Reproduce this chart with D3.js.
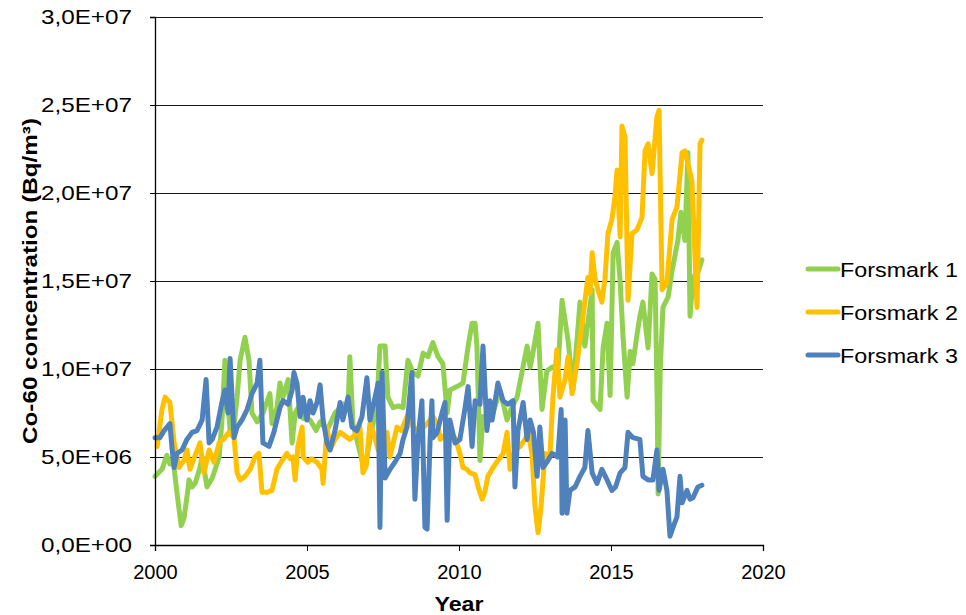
<!DOCTYPE html>
<html>
<head>
<meta charset="utf-8">
<script src="https://cdn.jsdelivr.net/npm/d3@7"></script>
<style>
  body { margin: 0; background: #fff; }
  svg { display: block; }
  text { font-family: "Liberation Sans", Arial, sans-serif; fill: #000; }
</style>
</head>
<body>
<div id="chart"></div>
<script>
// values in units of 1E6 Bq/m3
var f1Years = [2000.00,2000.23,2000.39,2000.49,2000.60,2000.72,2000.86,2000.95,2001.05,2001.12,2001.22,2001.32,2001.48,2001.55,2001.71,2001.88,2001.94,2002.11,2002.20,2002.30,2002.47,2002.60,2002.70,2002.80,2002.96,2003.09,2003.19,2003.36,2003.55,2003.78,2003.85,2004.01,2004.11,2004.21,2004.38,2004.51,2004.61,2004.77,2004.87,2005.10,2005.30,2005.43,2005.66,2005.92,2006.20,2006.35,2006.41,2006.51,2006.81,2006.91,2007.07,2007.30,2007.40,2007.57,2007.66,2007.83,2008.00,2008.16,2008.32,2008.49,2008.65,2008.82,2008.98,2009.14,2009.31,2009.47,2009.61,2009.70,2009.93,2010.13,2010.30,2010.43,2010.53,2010.59,2010.69,2010.79,2010.95,2011.12,2011.35,2011.58,2011.68,2011.91,2012.07,2012.24,2012.34,2012.43,2012.60,2012.73,2012.89,2013.06,2013.26,2013.39,2013.59,2013.75,2013.98,2014.14,2014.38,2014.41,2014.64,2014.74,2014.87,2014.97,2015.07,2015.20,2015.30,2015.39,2015.53,2015.63,2015.72,2015.86,2015.95,2016.05,2016.22,2016.35,2016.45,2016.52,2016.55,2016.62,2016.71,2016.88,2017.01,2017.20,2017.30,2017.43,2017.53,2017.60,2017.70,2017.86,2017.99];
var f1Values = [3.9,4.3,5.1,4.6,4.8,3.0,1.1,1.5,2.7,3.7,3.3,3.5,4.4,5.0,3.3,3.8,4.1,5.0,7.0,10.5,6.5,6.8,8.4,10.5,11.8,10.5,7.5,7.0,7.5,8.6,6.9,7.8,9.2,8.4,9.4,5.8,7.5,8.0,7.2,7.1,6.5,7.0,6.5,7.5,8.0,7.8,10.7,6.9,4.8,4.4,6.0,8.0,11.3,11.3,8.4,7.8,7.9,7.8,10.5,9.8,9.6,10.9,10.7,11.5,10.7,10.3,7.5,8.8,9.0,9.2,11.3,12.6,12.6,11.3,4.8,7.3,7.0,7.5,8.8,7.1,7.6,8.4,9.8,11.3,10.1,10.9,12.6,7.7,9.9,10.1,10.2,13.9,11.6,8.8,13.8,11.3,14.5,8.2,7.7,11.2,12.6,8.5,16.6,17.2,15.0,12.0,8.4,11.0,10.3,12.0,13.0,13.8,11.2,15.4,15.1,8.0,2.9,10.0,13.5,14.1,15.6,17.3,18.9,17.3,22.3,13.0,15.2,15.5,16.2];

var f2Years = [2000.07,2000.23,2000.33,2000.49,2000.63,2000.79,2000.95,2001.05,2001.15,2001.30,2001.48,2001.61,2001.78,2001.94,2002.11,2002.25,2002.43,2002.60,2002.70,2002.80,2002.96,2003.13,2003.29,2003.42,2003.52,2003.70,2003.85,2004.01,2004.18,2004.34,2004.45,2004.54,2004.61,2004.70,2004.84,2004.87,2005.03,2005.15,2005.33,2005.49,2005.53,2005.66,2005.76,2005.92,2006.09,2006.25,2006.41,2006.55,2006.74,2006.84,2006.95,2007.07,2007.20,2007.34,2007.50,2007.63,2007.73,2007.96,2008.10,2008.39,2008.49,2008.70,2008.90,2009.14,2009.30,2009.38,2009.50,2009.70,2009.87,2010.03,2010.13,2010.26,2010.36,2010.53,2010.63,2010.76,2010.85,2010.95,2011.12,2011.28,2011.45,2011.58,2011.68,2011.84,2012.01,2012.17,2012.27,2012.40,2012.50,2012.60,2012.70,2012.83,2012.99,2013.09,2013.22,2013.32,2013.49,2013.59,2013.72,2013.88,2014.05,2014.24,2014.31,2014.38,2014.47,2014.57,2014.70,2014.80,2014.90,2015.03,2015.13,2015.20,2015.30,2015.36,2015.46,2015.56,2015.69,2015.85,2016.02,2016.12,2016.22,2016.35,2016.51,2016.58,2016.68,2016.84,2017.01,2017.17,2017.34,2017.43,2017.55,2017.66,2017.83,2017.93,2017.99];
var f2Values = [5.6,7.7,8.4,8.1,5.8,4.4,4.8,5.4,4.3,5.0,5.8,4.1,5.4,4.7,5.8,6.0,6.4,6.1,4.1,3.7,3.9,4.3,5.0,5.2,3.0,3.0,3.1,4.3,4.8,5.2,4.9,5.0,3.7,5.6,6.7,5.0,4.7,4.9,4.7,4.3,3.5,6.7,5.4,6.0,6.4,6.2,6.0,6.2,6.7,4.1,4.5,6.9,6.3,5.4,6.0,6.4,5.0,6.7,6.5,7.7,6.7,6.5,6.8,7.3,6.8,6.0,6.2,6.1,6.1,5.2,4.4,4.3,4.1,4.0,3.3,2.6,3.0,3.9,4.4,4.8,5.2,6.4,4.3,5.4,5.6,6.0,6.4,5.2,2.2,0.7,2.2,5.2,5.0,8.4,11.1,8.4,9.4,10.7,8.6,10.3,12.6,15.2,14.3,16.6,15.2,14.5,13.8,15.1,17.7,18.5,19.8,21.3,17.5,23.8,23.2,13.9,17.7,17.9,18.6,22.4,22.8,21.1,24.3,24.7,14.5,14.9,18.5,19.2,22.3,22.4,21.5,20.7,13.5,22.8,23.0];

var f3Years = [2000.00,2000.16,2000.30,2000.49,2000.56,2000.63,2000.72,2000.89,2001.05,2001.22,2001.38,2001.55,2001.68,2001.78,2001.88,2002.04,2002.20,2002.30,2002.40,2002.47,2002.60,2002.70,2002.86,2003.03,2003.19,2003.36,2003.45,2003.55,2003.75,2003.91,2004.11,2004.21,2004.38,2004.51,2004.57,2004.67,2004.77,2004.87,2005.00,2005.10,2005.20,2005.33,2005.43,2005.53,2005.66,2005.76,2005.92,2006.09,2006.18,2006.35,2006.48,2006.64,2006.81,2006.97,2007.07,2007.24,2007.34,2007.40,2007.47,2007.57,2007.73,2007.89,2008.06,2008.16,2008.29,2008.45,2008.55,2008.65,2008.78,2008.88,2008.95,2009.05,2009.11,2009.14,2009.28,2009.44,2009.54,2009.61,2009.70,2009.87,2010.03,2010.20,2010.30,2010.43,2010.53,2010.69,2010.79,2010.92,2011.02,2011.09,2011.28,2011.45,2011.61,2011.78,2011.84,2011.94,2012.11,2012.24,2012.34,2012.45,2012.57,2012.66,2012.76,2012.89,2013.06,2013.25,2013.36,2013.39,2013.49,2013.55,2013.65,2013.82,2013.98,2014.14,2014.24,2014.38,2014.54,2014.70,2014.87,2015.03,2015.15,2015.30,2015.46,2015.56,2015.72,2015.95,2016.05,2016.22,2016.38,2016.51,2016.58,2016.71,2016.84,2016.94,2017.04,2017.17,2017.27,2017.34,2017.50,2017.60,2017.70,2017.86,2017.99];
var f3Values = [6.1,6.1,6.5,6.9,5.5,4.4,5.2,5.4,6.0,6.4,6.5,7.1,9.4,5.8,6.0,6.7,8.1,8.8,7.5,10.6,6.1,6.7,7.1,7.7,8.6,9.2,10.5,5.8,5.6,6.4,7.8,8.2,8.0,8.8,9.8,9.2,7.3,8.4,7.1,8.2,7.5,8.1,9.1,7.1,5.8,5.4,6.5,8.1,7.1,8.4,6.7,6.5,7.3,9.5,7.1,8.4,9.2,1.0,9.8,3.8,4.3,4.7,5.2,6.0,6.7,9.8,2.6,6.0,8.2,1.0,0.9,6.0,8.2,6.1,6.4,7.5,8.1,1.4,7.1,5.8,6.0,7.8,9.0,5.6,8.2,8.0,11.3,6.5,8.2,7.1,9.2,8.2,8.0,8.2,3.3,6.5,8.1,6.0,7.1,6.4,3.9,6.7,4.4,4.7,5.2,5.0,7.7,1.8,7.1,1.8,3.1,3.3,3.9,4.4,6.5,4.1,3.5,4.3,3.7,3.1,3.3,4.1,4.4,6.4,6.1,6.0,3.9,3.7,3.7,5.4,3.1,4.3,3.1,0.5,1.0,1.6,3.9,2.4,3.1,2.6,2.7,3.3,3.4];

var seriesNames = ["Forsmark 1", "Forsmark 2", "Forsmark 3"];
var seriesColors = ["#92D050", "#FFC000", "#4F81BD"];
var yTicks = [0, 5, 10, 15, 20, 25, 30];
var yTickLabels = ["0,0E+00", "5,0E+06", "1,0E+07", "1,5E+07", "2,0E+07", "2,5E+07", "3,0E+07"];
var xTicks = [2000, 2005, 2010, 2015, 2020];

var W = 966, H = 615;
var margin = {left: 155, top: 17, right: 203, bottom: 70};
var width = W - margin.left - margin.right;
var height = H - margin.top - margin.bottom;

var svg = d3.select("#chart").append("svg")
    .attr("width", W)
    .attr("height", H);

var g = svg.append("g")
    .attr("transform", "translate(" + margin.left + "," + margin.top + ")");

var x = d3.scaleLinear().domain([2000, 2020]).range([0, width]);
var y = d3.scaleLinear().domain([0, 30]).range([height, 0]);

// gridlines
g.selectAll(".grid")
    .data(yTicks.slice(1))
    .enter()
    .append("line")
    .attr("x1", 0)
    .attr("x2", width)
    .attr("y1", function(d) { return Math.round(y(d)) + 0.5; })
    .attr("y2", function(d) { return Math.round(y(d)) + 0.5; })
    .attr("stroke", "#1a1a1a")
    .attr("stroke-width", 1);

// series
var data = [
    d3.zip(f1Years, f1Values),
    d3.zip(f2Years, f2Values),
    d3.zip(f3Years, f3Values)
];

var line = d3.line()
    .x(function(d) { return x(d[0]); })
    .y(function(d) { return y(d[1]); });

data.forEach(function(s, i) {
    g.append("path")
        .datum(s)
        .attr("d", line)
        .attr("fill", "none")
        .attr("stroke", seriesColors[i])
        .attr("stroke-width", 5)
        .attr("stroke-linejoin", "round")
        .attr("stroke-linecap", "round");
});

// axes
var yAxis = d3.axisLeft(y)
    .tickValues(yTicks)
    .tickSize(5)
    .tickPadding(18)
    .tickFormat(function(d, i) { return yTickLabels[i]; });

var xAxis = d3.axisBottom(x)
    .tickValues(xTicks)
    .tickSize(6)
    .tickPadding(14)
    .tickFormat(d3.format("d"));

var gy = g.append("g").attr("class", "axis").call(yAxis);
var gx = g.append("g").attr("class", "axis")
    .attr("transform", "translate(0," + height + ")")
    .call(xAxis);

g.selectAll(".axis .domain").attr("stroke", "#000").attr("stroke-width", 1.3);
g.selectAll(".axis .tick line").attr("stroke", "#000");
gy.selectAll("text")
    .attr("font-size", 21)
    .attr("textLength", 91)
    .attr("lengthAdjust", "spacingAndGlyphs")
    .attr("font-family", "Liberation Sans, Arial, sans-serif")
    .attr("fill", "#000");
gx.selectAll("text")
    .attr("font-size", 20)
    .attr("font-family", "Liberation Sans, Arial, sans-serif")
    .attr("fill", "#000");

// axis titles
svg.append("text")
    .attr("x", margin.left + width / 2)
    .attr("y", 611)
    .attr("text-anchor", "middle")
    .attr("font-size", 21)
    .attr("font-weight", "bold")
    .attr("textLength", 49)
    .attr("lengthAdjust", "spacingAndGlyphs")
    .text("Year");

svg.append("text")
    .attr("transform", "translate(37," + (margin.top + height / 2) + ") rotate(-90)")
    .attr("text-anchor", "middle")
    .attr("font-size", 21)
    .attr("font-weight", "bold")
    .attr("textLength", 326)
    .attr("lengthAdjust", "spacingAndGlyphs")
    .text("Co-60 concentration (Bq/m³)");

// legend
var legend = svg.append("g")
    .attr("transform", "translate(808,269)");

var item = legend.selectAll(".item")
    .data(seriesNames)
    .enter()
    .append("g")
    .attr("transform", function(d, i) { return "translate(0," + (i * 43) + ")"; });

item.append("line")
    .attr("x1", 0)
    .attr("x2", 30)
    .attr("stroke", function(d, i) { return seriesColors[i]; })
    .attr("stroke-width", 5)
    .attr("stroke-linecap", "round");

item.append("text")
    .attr("x", 32)
    .attr("dy", "0.36em")
    .attr("font-size", 21)
    .attr("textLength", 118)
    .attr("lengthAdjust", "spacingAndGlyphs")
    .text(function(d) { return d; });
</script>
</body>
</html>
